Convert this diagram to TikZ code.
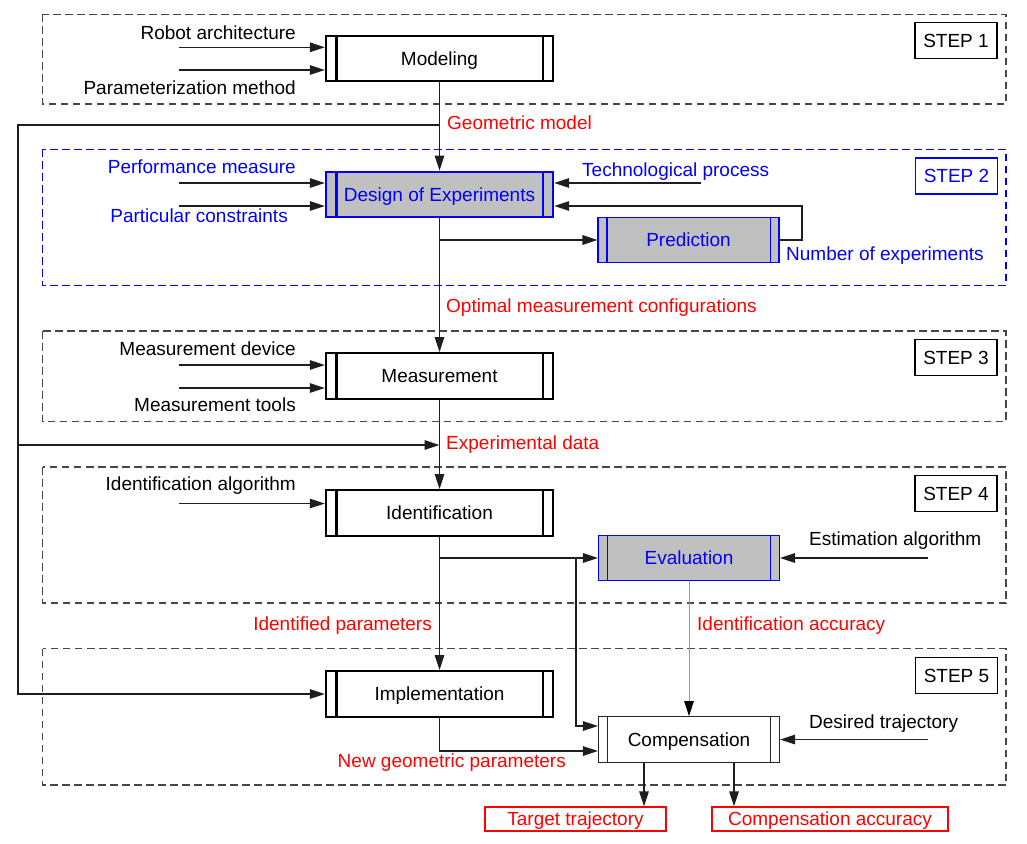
\documentclass[tikz,border=0pt]{standalone}
\usepackage{fontspec}
\setmainfont{Liberation Sans}
\usetikzlibrary{arrows.meta}
\definecolor{myblue}{RGB}{0,0,255}
\definecolor{myred}{RGB}{255,0,0}
\definecolor{boxgray}{RGB}{192,192,192}
\definecolor{dashgray}{RGB}{70,70,70}
\definecolor{linegray}{RGB}{30,30,30}
\newcommand{\procbars}[3]{%
  \draw[#3] ([xshift=#2]#1.north west) -- ([xshift=#2]#1.south west)
            ([xshift=-#2]#1.north east) -- ([xshift=-#2]#1.south east);}
\begin{document}
\begin{tikzpicture}[x=1pt,y=-1pt,
  every node/.style={font=\fontsize{19}{22}\selectfont},
  lbl/.style={inner sep=0pt, text height=13.6pt, text depth=0pt},
  stepframe/.style={draw=dashgray, line width=1.5pt, dash pattern=on 7.5pt off 4.5pt},
  steplabel/.style={draw=black, line width=1.3pt, minimum width=82pt, minimum height=36pt, inner sep=0pt, text height=13.6pt, text depth=0pt},
  bigproc/.style={draw=black, line width=2.3pt, minimum width=227pt, minimum height=45.5pt, inner sep=0pt, text height=13.6pt, text depth=0pt},
  smallproc/.style={draw=myblue, fill=boxgray, text=myblue, line width=1.1pt, minimum width=181pt, minimum height=45.5pt, inner sep=0pt, text height=13.6pt, text depth=0pt},
  compproc/.style={draw=black!85, fill=white, line width=1.2pt, minimum width=181pt, minimum height=45.5pt, inner sep=0pt, text height=13.6pt, text depth=0pt},
  redbox/.style={draw=myred, text=myred, line width=1.3pt, minimum height=24pt, inner sep=0pt, text height=13.6pt, text depth=0pt},
  conn/.style={draw=linegray, line width=1.4pt},
  arr/.style={conn, -{Triangle[length=15pt,width=9.5pt]}},
  grayarr/.style={draw=black!40, line width=1pt, -{Triangle[length=15pt,width=9.5pt,color=black]}},
]
\useasboundingbox (0,0) rectangle (1027,843);

% step frames
\draw[stepframe] (42.5,14.3) rectangle (1006,104);
\draw[stepframe, draw=myblue] (42.5,149.3) rectangle (1006,285.5);
\draw[stepframe] (42.5,331) rectangle (1006,421.7);
\draw[stepframe] (42.5,467) rectangle (1006,603);
\draw[stepframe] (42.5,648.5) rectangle (1006,785);

% step labels
\node[steplabel] (s1) at (956,40.5) {STEP 1};
\node[steplabel, draw=myblue, text=myblue] (s2) at (956.5,176) {STEP 2};
\node[steplabel] (s3) at (956,357.5) {STEP 3};
\node[steplabel] (s4) at (956,493.5) {STEP 4};
\node[steplabel] (s5) at (956.5,675.5) {STEP 5};

% process boxes
\node[bigproc] (model) at (439.5,58.5) {Modeling};
\node[bigproc, draw=myblue, fill=boxgray, text=myblue] (doe) at (439.5,194.5) {Design of Experiments};
\node[smallproc] (pred) at (688.5,240) {Prediction};
\node[bigproc] (meas) at (439.5,376) {Measurement};
\node[bigproc] (ident) at (439.5,513) {Identification};
\node[smallproc] (eval) at (689,558) {Evaluation};
\node[bigproc] (impl) at (439.5,694) {Implementation};
\node[compproc] (comp) at (689,739.5) {Compensation};

\procbars{model}{11.5pt}{line width=2.3pt}
\procbars{doe}{11.5pt}{line width=2.3pt, draw=myblue}
\procbars{meas}{11.5pt}{line width=2.3pt}
\procbars{ident}{11.5pt}{line width=2.3pt}
\procbars{impl}{11.5pt}{line width=2.3pt}
\procbars{pred}{9.5pt}{line width=1.1pt, draw=myblue}
\procbars{eval}{9.5pt}{line width=1.1pt, draw=myblue}
\procbars{comp}{9.5pt}{line width=1.2pt, draw=black!85}

% output boxes
\node[redbox, minimum width=181pt] (tt) at (575.5,819) {Target trajectory};
\node[redbox, minimum width=236pt] (ca) at (830,819) {Compensation accuracy};

% input labels
\node[lbl, anchor=east] (ra) at (296,33) {Robot architecture};
\node[lbl, anchor=east] (pm) at (296,88) {Parameterization method};
\node[lbl, anchor=east, text=myblue] (pf) at (296,166.5) {Performance measure};
\node[lbl, anchor=east, text=myblue] (pc) at (288,216) {Particular constraints};
\node[lbl, anchor=west, text=myblue] (tp) at (582,169.5) {Technological process};
\node[lbl, anchor=west, text=myblue] (ne) at (786,253.5) {Number of experiments};
\node[lbl, anchor=east] (md) at (296,349) {Measurement device};
\node[lbl, anchor=east] (mt) at (296,405) {Measurement tools};
\node[lbl, anchor=east] (ia) at (296,483.5) {Identification algorithm};
\node[lbl, anchor=west] (ea) at (809,538.5) {Estimation algorithm};
\node[lbl, anchor=west] (dt) at (809,722) {Desired trajectory};

% flow labels
\node[lbl, anchor=west, text=myred] (gm) at (447,123) {Geometric model};
\node[lbl, anchor=west, text=myred] (om) at (446,306) {Optimal measurement configurations};
\node[lbl, anchor=west, text=myred] (ed) at (446,442.5) {Experimental data};
\node[lbl, anchor=east, text=myred] (ip) at (432,623.5) {Identified parameters};
\node[lbl, anchor=west, text=myred] (iacc) at (697,624) {Identification accuracy};
\node[lbl, anchor=east, text=myred] (ng) at (566,760.5) {New geometric parameters};

% free-end coordinates
\coordinate (ra0) at (178.5,47.3);
\coordinate (pm0) at (178.5,70);
\coordinate (pf0) at (178.5,183);
\coordinate (pc0) at (178.5,206);
\coordinate (tp0) at (700.5,183);
\coordinate (fb) at (802,206);
\coordinate (md0) at (178.5,365);
\coordinate (mt0) at (178.5,388);
\coordinate (ia0) at (178.5,503.5);
\coordinate (ea0) at (928,558);
\coordinate (dt0) at (928,739.5);
\coordinate (g1) at (439.5,125);
\coordinate (lc) at (18,125);
\coordinate (e0) at (18,445);
\coordinate (e1) at (439.5,445);
\coordinate (b1) at (439.5,240);
\coordinate (b2) at (439.5,558);
\coordinate (b3) at (576,558);

% inputs
\draw[arr] (ra0) -- (ra0 -| model.west);
\draw[arr] (pm0) -- (pm0 -| model.west);
\draw[arr] (pf0) -- (pf0 -| doe.west);
\draw[arr] (pc0) -- (pc0 -| doe.west);
\draw[arr] (tp0) -- (tp0 -| doe.east);
\draw[arr] (pred.east) -| (fb) -- (fb -| doe.east);
\draw[arr] (md0) -- (md0 -| meas.west);
\draw[arr] (mt0) -- (mt0 -| meas.west);
\draw[arr] (ia0) -- (ia0 -| ident.west);
\draw[arr] (ea0) -- (eval.east);
\draw[arr] (dt0) -- (comp.east);

% main flow
\draw[arr] (model.south) -- (doe.north);
\draw[arr] (doe.south) -- (meas.north);
\draw[arr] (meas.south) -- (ident.north);
\draw[arr] (ident.south) -- (impl.north);
\draw[arr] (b1) -- (pred.west);
\draw[arr] (g1) -- (lc) |- (impl.west);
\draw[arr] (e0) -- (e1);
\draw[arr] (b2) -- (eval.west);
\draw[arr] (b3) |- ([yshift=13.5pt]comp.west);
\draw[arr] (impl.south) |- ([yshift=-11.5pt]comp.west);
\draw[grayarr] (eval.south) -- (comp.north);
\draw[arr] ([xshift=-45pt]comp.south) -- ([xshift=-45pt]comp.south |- tt.north);
\draw[arr] ([xshift=45pt]comp.south) -- ([xshift=45pt]comp.south |- ca.north);
\end{tikzpicture}
\end{document}
